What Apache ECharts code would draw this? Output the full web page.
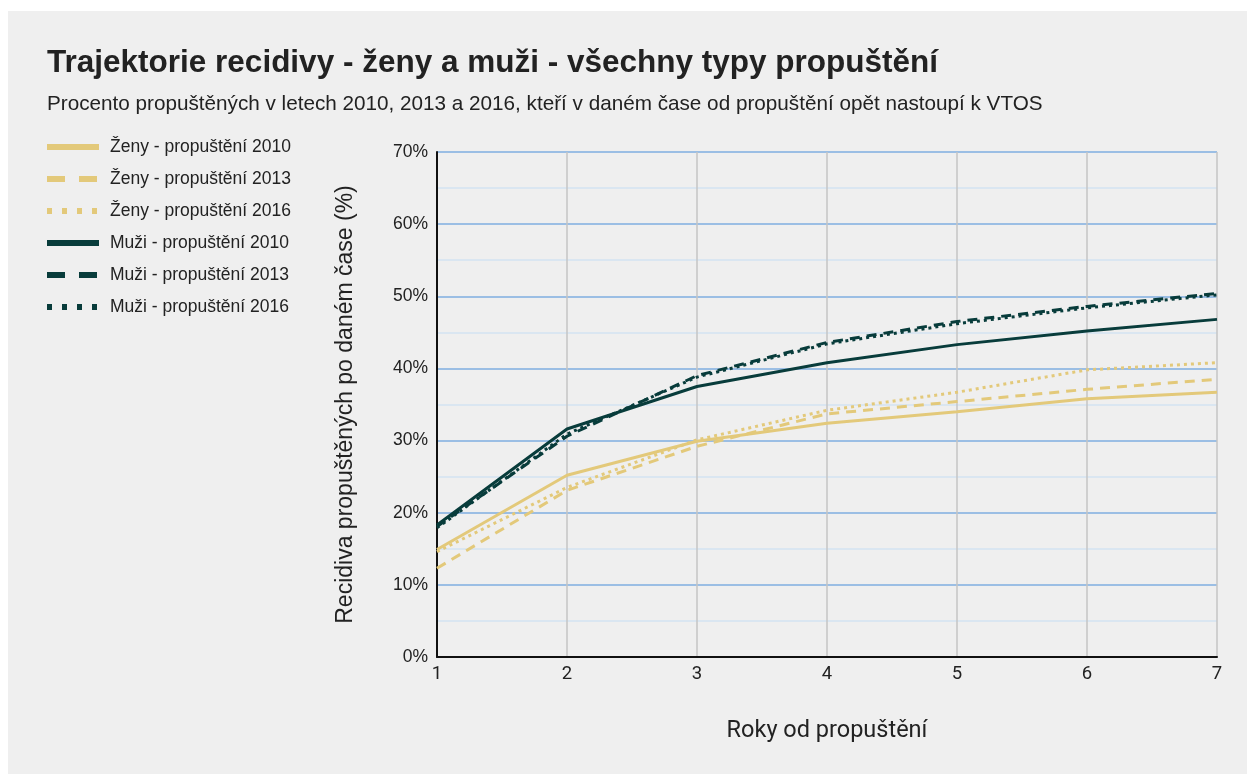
<!DOCTYPE html>
<html>
<head>
<meta charset="utf-8">
<script src="https://cdn.jsdelivr.net/npm/echarts@6/dist/echarts.min.js"></script>
<style>
  html, body { margin: 0; padding: 0; background: #ffffff; }
  #panel { position: absolute; left: 8px; top: 11px; width: 1239px; height: 763px; background: #efefef; }
  #chart { position: absolute; left: 0; top: 0; width: 1247px; height: 774px; }
</style>
</head>
<body>
<div id="panel"></div>
<div id="chart"></div>
<script>
// Years since release (x axis)
const years = [1, 2, 3, 4, 5, 6, 7];

// Share of released persons returning to prison (%)
const zeny2010 = [14.9, 25.2, 29.9, 32.4, 34.0, 35.8, 36.7];
const zeny2013 = [12.3, 23.1, 29.2, 33.7, 35.4, 37.1, 38.5];
const zeny2016 = [14.6, 23.5, 30.1, 34.2, 36.7, 39.8, 40.8];
const muzi2010 = [18.3, 31.6, 37.5, 40.8, 43.3, 45.2, 46.8];
const muzi2013 = [18.1, 30.6, 39.0, 43.6, 46.5, 48.6, 50.4];
const muzi2016 = [17.9, 30.9, 38.8, 43.4, 46.2, 48.4, 50.2];

const seriesNames = [
  'Ženy - propuštění 2010',
  'Ženy - propuštění 2013',
  'Ženy - propuštění 2016',
  'Muži - propuštění 2010',
  'Muži - propuštění 2013',
  'Muži - propuštění 2016'
];

const ZENY = '#e3c97a';
const MUZI = '#083c3b';

// dash patterns: in-plot lines and the (thicker) legend keys
const DASH = [10, 7];
const DOT = [3, 4];
const LEGEND_DASH = [18, 14];
const LEGEND_DOT = [5, 10];

function pairs(vals) { return years.map((y, i) => [y, vals[i]]); }

function line(name, vals, color, dash) {
  return {
    name: name,
    type: 'line',
    data: pairs(vals),
    symbol: 'none',
    showSymbol: false,
    color: color,
    lineStyle: { color: color, width: 3, type: dash },
    emphasis: { disabled: true }
  };
}

function legendItem(name, color, dash) {
  return {
    name: name,
    itemStyle: { opacity: 0 },
    lineStyle: { color: color, width: 6, type: dash, cap: 'butt' }
  };
}

const chart = echarts.init(document.getElementById('chart'), null, { renderer: 'canvas' });
chart.setOption({
  backgroundColor: 'transparent',
  animation: false,
  title: {
    text: 'Trajektorie recidivy - ženy a muži - všechny typy propuštění',
    subtext: 'Procento propuštěných v letech 2010, 2013 a 2016, kteří v daném čase od propuštění opět nastoupí k VTOS',
    left: 42,
    top: 42,
    itemGap: 15,
    textStyle: { fontFamily: 'Liberation Sans', fontWeight: 'bold', fontSize: 31.5, color: '#222222' },
    subtextStyle: { fontFamily: 'Liberation Sans', fontSize: 20.7, color: '#222222' }
  },
  legend: {
    orient: 'vertical',
    left: 44,
    top: 138,
    padding: 0,
    itemWidth: 52,
    itemHeight: 14,
    itemGap: 14,
    data: [
      legendItem(seriesNames[0], ZENY, 'solid'),
      legendItem(seriesNames[1], ZENY, LEGEND_DASH),
      legendItem(seriesNames[2], ZENY, LEGEND_DOT),
      legendItem(seriesNames[3], MUZI, 'solid'),
      legendItem(seriesNames[4], MUZI, LEGEND_DASH),
      legendItem(seriesNames[5], MUZI, LEGEND_DOT)
    ],
    textStyle: { fontFamily: 'Liberation Sans', fontSize: 17.5, lineHeight: 18, color: '#222222', padding: [0, 0, 0, 6] },
    selectedMode: false
  },
  grid: { left: 437, right: 30, top: 152, bottom: 117, containLabel: false },
  xAxis: {
    type: 'value',
    min: 1,
    max: 7,
    interval: 1,
    name: 'Roky od propuštění',
    nameLocation: 'middle',
    nameGap: 62,
    nameTextStyle: { fontFamily: 'Roboto', fontSize: 23.5, color: '#222222' },
    axisLine: { show: true, lineStyle: { color: '#111111', width: 2 } },
    axisTick: { show: false },
    axisLabel: { fontFamily: 'Roboto', fontSize: 18.5, color: '#222222', margin: 8 },
    splitLine: { show: true, lineStyle: { color: '#c4c4c4', width: 1.5 } }
  },
  yAxis: {
    type: 'value',
    min: 0,
    max: 70,
    interval: 10,
    name: 'Recidiva propuštěných po daném čase (%)',
    nameLocation: 'middle',
    nameGap: 80,
    nameTextStyle: { fontFamily: 'Liberation Sans', fontSize: 23, color: '#222222' },
    axisLine: { show: true, lineStyle: { color: '#111111', width: 2 } },
    axisTick: { show: false },
    axisLabel: { formatter: '{value}%', fontFamily: 'Liberation Sans', fontSize: 17.5, color: '#222222', margin: 9 },
    splitLine: { show: true, lineStyle: { color: '#7faee0', width: 1.5 } },
    minorTick: { show: false, splitNumber: 2 },
    minorSplitLine: { show: true, lineStyle: { color: '#d3e3f2', width: 1.5 } }
  },
  series: [
    line(seriesNames[0], zeny2010, ZENY, 'solid'),
    line(seriesNames[1], zeny2013, ZENY, DASH),
    line(seriesNames[2], zeny2016, ZENY, DOT),
    line(seriesNames[3], muzi2010, MUZI, 'solid'),
    line(seriesNames[4], muzi2013, MUZI, DASH),
    line(seriesNames[5], muzi2016, MUZI, DOT)
  ]
});
</script>
</body>
</html>
